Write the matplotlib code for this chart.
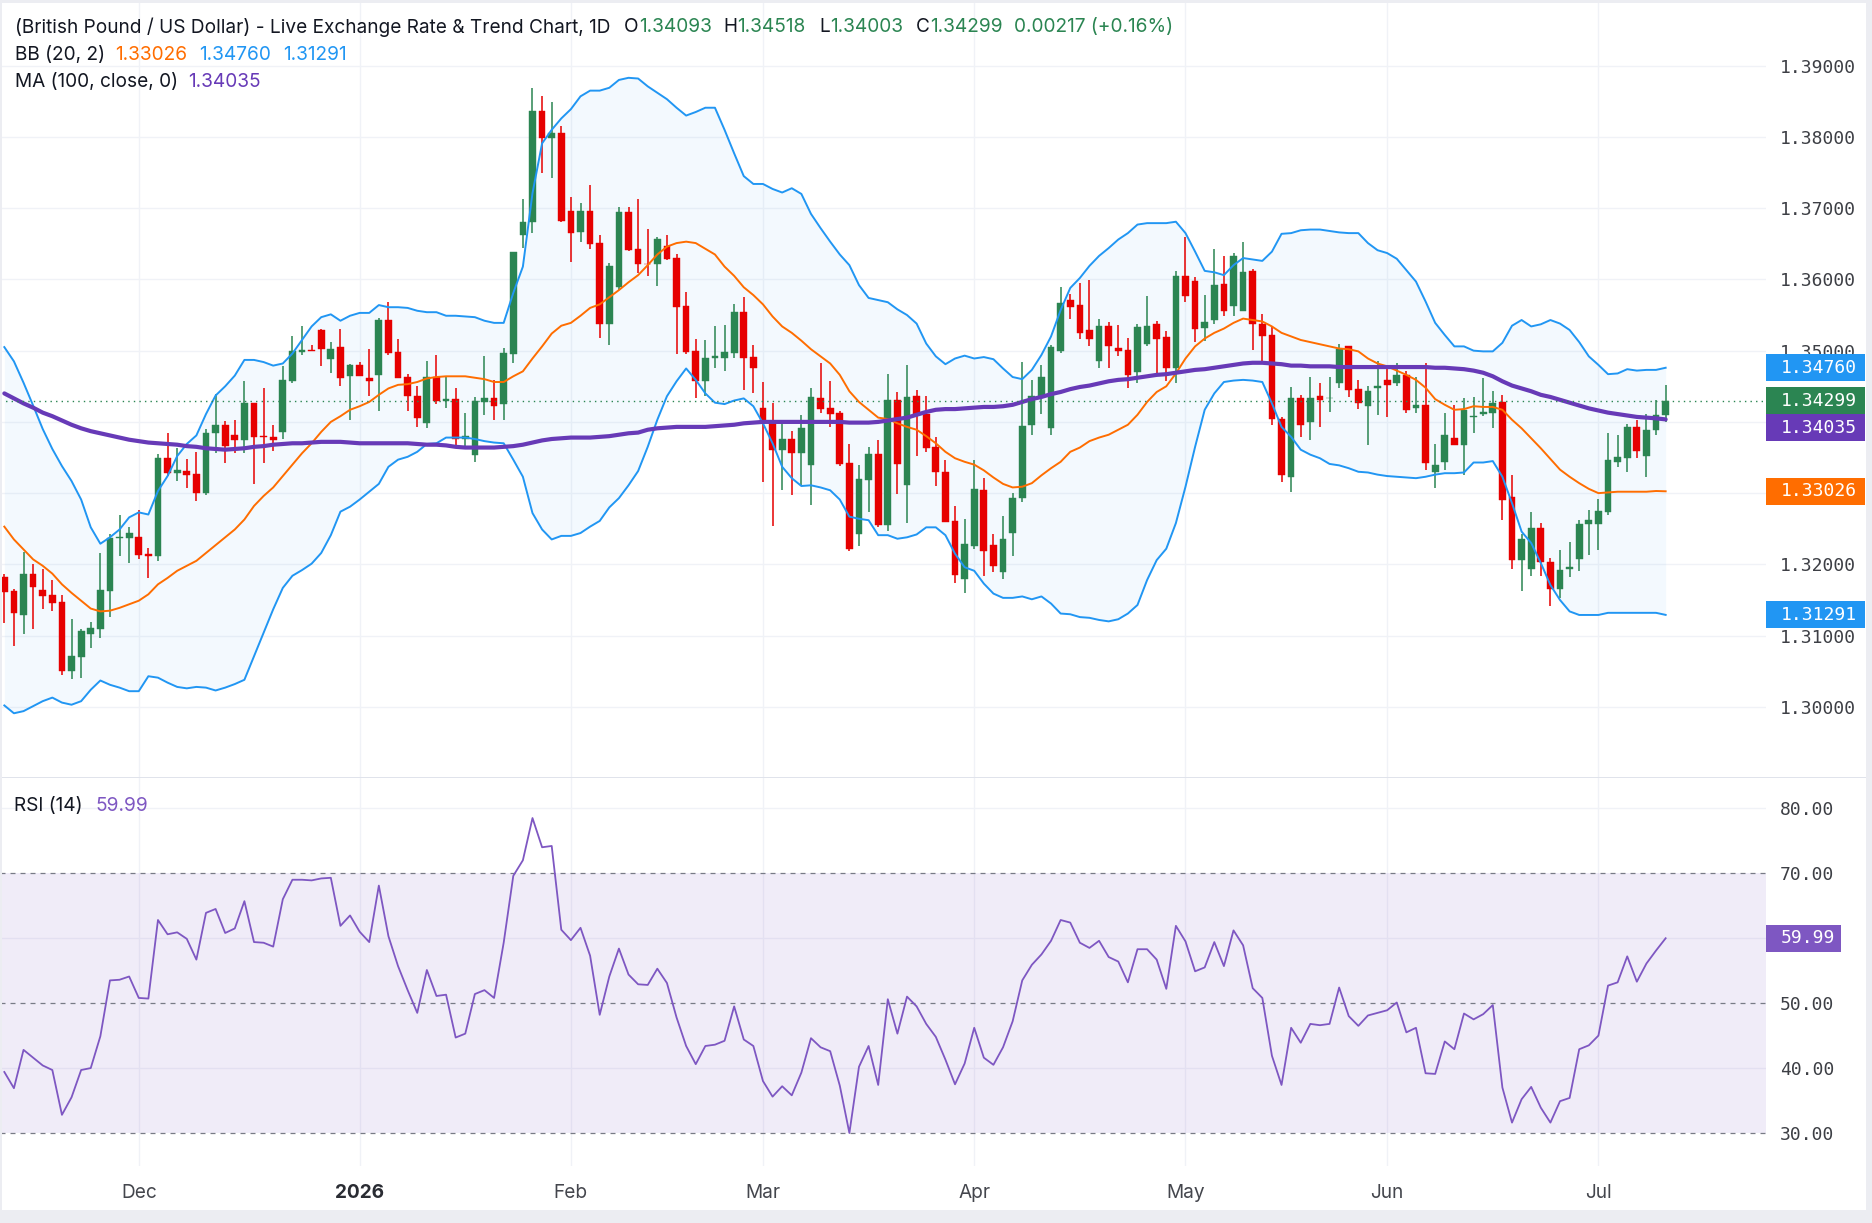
import matplotlib
matplotlib.use('Agg')
import matplotlib.pyplot as plt
from matplotlib.patches import Rectangle
import numpy as np

W, H = 1872, 1223
FAM = ['Inter', 'DejaVu Sans']
MONO = ['DejaVu Sans Mono']
plt.rcParams['font.family'] = FAM

# ---------------- data ----------------
month_labels = ['Dec', '2026', 'Feb', 'Mar', 'Apr', 'May', 'Jun', 'Jul']
month_start_idx = [14, 37, 59, 79, 101, 123, 144, 166]
price_ticks = [1.30, 1.31, 1.32, 1.33, 1.34, 1.35, 1.36, 1.37, 1.38, 1.39]
rsi_ticks = [30, 40, 50, 60, 70, 80]

opens = [
    1.3182, 1.3162, 1.3129, 1.3186, 1.3164, 1.3157, 1.3147, 1.3050, 1.3070, 1.3102,
    1.3109, 1.3163, 1.3237, 1.3237, 1.3239, 1.3214, 1.3212, 1.3349, 1.3328, 1.3331,
    1.3327, 1.3300, 1.3385, 1.3396, 1.3381, 1.3375, 1.3426, 1.3380, 1.3379, 1.3386,
    1.3457, 1.3498, 1.3501, 1.3529, 1.3488, 1.3505, 1.3464, 1.3480, 1.3461, 1.3466,
    1.3543, 1.3498, 1.3463, 1.3437, 1.3398, 1.3463, 1.3430, 1.3432, 1.3376, 1.3353,
    1.3428, 1.3434, 1.3425, 1.3496, 1.3662, 1.3680, 1.3837, 1.3798, 1.3806, 1.3696,
    1.3666, 1.3696, 1.3651, 1.3538, 1.3589, 1.3695, 1.3643, 1.3622, 1.3621, 1.3647,
    1.3630, 1.3562, 1.3500, 1.3458, 1.3489, 1.3490, 1.3497, 1.3554, 1.3491, 1.3420,
    1.3401, 1.3361, 1.3376, 1.3356, 1.3339, 1.3434, 1.3419, 1.3412, 1.3342, 1.3242,
    1.3319, 1.3355, 1.3255, 1.3431, 1.3312, 1.3436, 1.3411, 1.3365, 1.3330, 1.3261,
    1.3180, 1.3226, 1.3304, 1.3227, 1.3190, 1.3244, 1.3293, 1.3396, 1.3435, 1.3391,
    1.3500, 1.3571, 1.3564, 1.3529, 1.3485, 1.3535, 1.3504, 1.3501, 1.3470, 1.3509,
    1.3538, 1.3519, 1.3475, 1.3605, 1.3598, 1.3532, 1.3543, 1.3594, 1.3562, 1.3555,
    1.3612, 1.3538, 1.3522, 1.3404, 1.3323, 1.3433, 1.3400, 1.3437, 1.3433, 1.3454,
    1.3506, 1.3446, 1.3423, 1.3447, 1.3459, 1.3454, 1.3466, 1.3419, 1.3424, 1.3329,
    1.3344, 1.3378, 1.3368, 1.3407, 1.3411, 1.3412, 1.3428, 1.3295, 1.3206, 1.3193,
    1.3251, 1.3204, 1.3166, 1.3193, 1.3207, 1.3257, 1.3256, 1.3274, 1.3344, 1.3349,
    1.3393, 1.3352, 1.3388, 1.34093]

highs = [
    1.3186, 1.3166, 1.3217, 1.3201, 1.3194, 1.3178, 1.3157, 1.3124, 1.3109, 1.3119,
    1.3216, 1.3242, 1.3270, 1.3253, 1.3276, 1.3223, 1.3355, 1.3385, 1.3363, 1.3348,
    1.3358, 1.3390, 1.3439, 1.3401, 1.3403, 1.3457, 1.3427, 1.3448, 1.3396, 1.3478,
    1.3520, 1.3535, 1.3508, 1.3531, 1.3512, 1.3531, 1.3481, 1.3484, 1.3502, 1.3546,
    1.3568, 1.3516, 1.3467, 1.3451, 1.3486, 1.3494, 1.3465, 1.3447, 1.3413, 1.3435,
    1.3492, 1.3459, 1.3504, 1.3639, 1.3713, 1.3869, 1.3857, 1.3849, 1.3815, 1.3716,
    1.3707, 1.3732, 1.3663, 1.3623, 1.3701, 1.3701, 1.3713, 1.3671, 1.3660, 1.3663,
    1.3635, 1.3583, 1.3517, 1.3515, 1.3535, 1.3536, 1.3566, 1.3576, 1.3508, 1.3456,
    1.3426, 1.3403, 1.3387, 1.3410, 1.3448, 1.3483, 1.3458, 1.3415, 1.3369, 1.3340,
    1.3365, 1.3375, 1.3467, 1.3442, 1.3480, 1.3445, 1.3436, 1.3379, 1.3347, 1.3282,
    1.3264, 1.3347, 1.3321, 1.3243, 1.3268, 1.3300, 1.3484, 1.3459, 1.3480, 1.3508,
    1.3590, 1.3580, 1.3595, 1.3599, 1.3544, 1.3540, 1.3536, 1.3518, 1.3538, 1.3577,
    1.3542, 1.3528, 1.3612, 1.3659, 1.3603, 1.3578, 1.3643, 1.3633, 1.3637, 1.3653,
    1.3615, 1.3552, 1.3534, 1.3407, 1.3449, 1.3438, 1.3463, 1.3455, 1.3463, 1.3509,
    1.3507, 1.3459, 1.3450, 1.3486, 1.3477, 1.3482, 1.3472, 1.3463, 1.3483, 1.3369,
    1.3412, 1.3424, 1.3434, 1.3435, 1.3461, 1.3444, 1.3438, 1.3326, 1.3242, 1.3274,
    1.3258, 1.3209, 1.3220, 1.3232, 1.3263, 1.3277, 1.3292, 1.3384, 1.3382, 1.3397,
    1.3402, 1.3411, 1.3431, 1.34518]

lows = [
    1.3118, 1.3085, 1.3102, 1.3109, 1.3137, 1.3135, 1.3045, 1.3039, 1.3041, 1.3082,
    1.3097, 1.3126, 1.3212, 1.3202, 1.3207, 1.3181, 1.3205, 1.3324, 1.3317, 1.3307,
    1.3289, 1.3297, 1.3357, 1.3343, 1.3357, 1.3357, 1.3313, 1.3343, 1.3359, 1.3376,
    1.3455, 1.3494, 1.3500, 1.3478, 1.3469, 1.3450, 1.3402, 1.3465, 1.3436, 1.3415,
    1.3494, 1.3462, 1.3416, 1.3393, 1.3392, 1.3425, 1.3420, 1.3364, 1.3366, 1.3344,
    1.3410, 1.3402, 1.3402, 1.3483, 1.3644, 1.3665, 1.3750, 1.3743, 1.3681, 1.3624,
    1.3652, 1.3643, 1.3518, 1.3508, 1.3585, 1.3640, 1.3609, 1.3605, 1.3591, 1.3627,
    1.3495, 1.3495, 1.3434, 1.3436, 1.3476, 1.3471, 1.3489, 1.3445, 1.3440, 1.3315,
    1.3254, 1.3304, 1.3298, 1.3310, 1.3284, 1.3413, 1.3393, 1.3338, 1.3219, 1.3226,
    1.3274, 1.3253, 1.3247, 1.3299, 1.3258, 1.3352, 1.3358, 1.3310, 1.3260, 1.3174,
    1.3160, 1.3221, 1.3183, 1.3190, 1.3179, 1.3212, 1.3288, 1.3382, 1.3411, 1.3382,
    1.3497, 1.3544, 1.3517, 1.3506, 1.3476, 1.3475, 1.3493, 1.3448, 1.3454, 1.3507,
    1.3464, 1.3458, 1.3455, 1.3569, 1.3512, 1.3514, 1.3538, 1.3549, 1.3548, 1.3555,
    1.3501, 1.3483, 1.3396, 1.3316, 1.3302, 1.3379, 1.3375, 1.3393, 1.3414, 1.3448,
    1.3435, 1.3418, 1.3368, 1.3409, 1.3407, 1.3451, 1.3413, 1.3412, 1.3332, 1.3307,
    1.3332, 1.3367, 1.3325, 1.3384, 1.3408, 1.3391, 1.3263, 1.3194, 1.3163, 1.3184,
    1.3183, 1.3141, 1.3153, 1.3182, 1.3191, 1.3213, 1.3220, 1.3269, 1.3336, 1.3329,
    1.3350, 1.3323, 1.3381, 1.34003]

closes = [
    1.3161, 1.3132, 1.3186, 1.3168, 1.3156, 1.3146, 1.3050, 1.3071, 1.3106, 1.3110,
    1.3164, 1.3237, 1.3238, 1.3244, 1.3213, 1.3212, 1.3349, 1.3328, 1.3333, 1.3326,
    1.3300, 1.3385, 1.3396, 1.3366, 1.3375, 1.3426, 1.3379, 1.3379, 1.3375, 1.3459,
    1.3500, 1.3501, 1.3500, 1.3503, 1.3503, 1.3462, 1.3480, 1.3465, 1.3457, 1.3543,
    1.3497, 1.3462, 1.3436, 1.3406, 1.3463, 1.3430, 1.3432, 1.3376, 1.3380, 1.3429,
    1.3434, 1.3423, 1.3497, 1.3638, 1.3681, 1.3837, 1.3798, 1.3806, 1.3682, 1.3665,
    1.3696, 1.3650, 1.3538, 1.3619, 1.3695, 1.3641, 1.3621, 1.3621, 1.3657, 1.3629,
    1.3561, 1.3498, 1.3458, 1.3490, 1.3493, 1.3498, 1.3554, 1.3490, 1.3476, 1.3400,
    1.3361, 1.3376, 1.3356, 1.3392, 1.3435, 1.3418, 1.3411, 1.3341, 1.3221, 1.3320,
    1.3355, 1.3255, 1.3431, 1.3341, 1.3435, 1.3410, 1.3364, 1.3329, 1.3260, 1.3185,
    1.3229, 1.3306, 1.3219, 1.3198, 1.3236, 1.3293, 1.3394, 1.3436, 1.3463, 1.3505,
    1.3567, 1.3561, 1.3525, 1.3516, 1.3535, 1.3507, 1.3500, 1.3466, 1.3533, 1.3535,
    1.3516, 1.3475, 1.3605, 1.3577, 1.3531, 1.3540, 1.3592, 1.3555, 1.3633, 1.3611,
    1.3538, 1.3521, 1.3404, 1.3325, 1.3433, 1.3395, 1.3433, 1.3431, 1.3434, 1.3502,
    1.3445, 1.3426, 1.3444, 1.3450, 1.3452, 1.3466, 1.3417, 1.3424, 1.3342, 1.3340,
    1.3382, 1.3367, 1.3417, 1.3408, 1.3414, 1.3427, 1.3291, 1.3206, 1.3236, 1.3251,
    1.3203, 1.3166, 1.3192, 1.3197, 1.3257, 1.3263, 1.3275, 1.3347, 1.3351, 1.3393,
    1.3359, 1.3389, 1.3409, 1.34299]

bb_upper = [
    1.3505, 1.3485, 1.3455, 1.3423, 1.3390, 1.3362, 1.3338, 1.3317, 1.3291, 1.3252,
    1.3229, 1.3238, 1.3249, 1.3266, 1.3273, 1.3270, 1.3303, 1.3324, 1.3352, 1.3369,
    1.3381, 1.3411, 1.3437, 1.3450, 1.3465, 1.3487, 1.3487, 1.3484, 1.3479, 1.3482,
    1.3496, 1.3515, 1.3534, 1.3547, 1.3551, 1.3542, 1.3549, 1.3553, 1.3553, 1.3564,
    1.3561, 1.3561, 1.3560, 1.3556, 1.3554, 1.3554, 1.3549, 1.3549, 1.3548, 1.3547,
    1.3542, 1.3539, 1.3539, 1.3581, 1.3618, 1.3721, 1.3791, 1.3810, 1.3826, 1.3839,
    1.3857, 1.3865, 1.3865, 1.3869, 1.3880, 1.3883, 1.3882, 1.3871, 1.3862, 1.3853,
    1.3841, 1.3830, 1.3835, 1.3841, 1.3841, 1.3810, 1.3777, 1.3745, 1.3734, 1.3734,
    1.3727, 1.3722, 1.3728, 1.3720, 1.3692, 1.3672, 1.3653, 1.3635, 1.3620, 1.3592,
    1.3574, 1.3571, 1.3568, 1.3558, 1.3550, 1.3538, 1.3510, 1.3492, 1.3481, 1.3489,
    1.3493, 1.3489, 1.3491, 1.3488, 1.3475, 1.3463, 1.3460, 1.3473, 1.3494, 1.3520,
    1.3557, 1.3588, 1.3602, 1.3619, 1.3633, 1.3644, 1.3656, 1.3665, 1.3677, 1.3679,
    1.3679, 1.3679, 1.3681, 1.3665, 1.3639, 1.3612, 1.3610, 1.3606, 1.3620, 1.3630,
    1.3628, 1.3626, 1.3639, 1.3664, 1.3665, 1.3669, 1.3670, 1.3670, 1.3668, 1.3666,
    1.3665, 1.3665, 1.3651, 1.3641, 1.3637, 1.3629, 1.3613, 1.3597, 1.3569, 1.3539,
    1.3522, 1.3506, 1.3506, 1.3500, 1.3499, 1.3499, 1.3511, 1.3535, 1.3543, 1.3534,
    1.3537, 1.3543, 1.3538, 1.3529, 1.3512, 1.3492, 1.3480, 1.3467, 1.3468, 1.3474,
    1.3472, 1.3473, 1.3473, 1.34760]

bb_mid = [
    1.3253, 1.3235, 1.3221, 1.3207, 1.3198, 1.3187, 1.3172, 1.3160, 1.3149, 1.3138,
    1.3134, 1.3135, 1.3139, 1.3144, 1.3149, 1.3158, 1.3172, 1.3181, 1.3191, 1.3198,
    1.3205, 1.3216, 1.3227, 1.3238, 1.3249, 1.3263, 1.3282, 1.3296, 1.3308, 1.3324,
    1.3340, 1.3356, 1.3370, 1.3386, 1.3400, 1.3408, 1.3417, 1.3422, 1.3428, 1.3438,
    1.3447, 1.3452, 1.3453, 1.3456, 1.3461, 1.3463, 1.3464, 1.3464, 1.3464, 1.3462,
    1.3460, 1.3456, 1.3456, 1.3464, 1.3471, 1.3489, 1.3506, 1.3524, 1.3535, 1.3539,
    1.3549, 1.3560, 1.3565, 1.3575, 1.3585, 1.3596, 1.3606, 1.3620, 1.3635, 1.3646,
    1.3651, 1.3653, 1.3651, 1.3643, 1.3635, 1.3618, 1.3605, 1.3589, 1.3578, 1.3565,
    1.3548, 1.3534, 1.3525, 1.3514, 1.3502, 1.3492, 1.3482, 1.3466, 1.3443, 1.3428,
    1.3417, 1.3406, 1.3404, 1.3398, 1.3393, 1.3389, 1.3380, 1.3370, 1.3358, 1.3349,
    1.3344, 1.3340, 1.3332, 1.3322, 1.3313, 1.3308, 1.3309, 1.3314, 1.3325, 1.3335,
    1.3344, 1.3358, 1.3364, 1.3373, 1.3378, 1.3382, 1.3389, 1.3396, 1.3410, 1.3428,
    1.3442, 1.3450, 1.3468, 1.3489, 1.3506, 1.3517, 1.3525, 1.3531, 1.3539, 1.3545,
    1.3543, 1.3541, 1.3534, 1.3525, 1.3520, 1.3515, 1.3512, 1.3509, 1.3506, 1.3503,
    1.3502, 1.3499, 1.3489, 1.3482, 1.3478, 1.3472, 1.3466, 1.3459, 1.3448, 1.3432,
    1.3424, 1.3417, 1.3418, 1.3422, 1.3421, 1.3421, 1.3417, 1.3403, 1.3391, 1.3377,
    1.3363, 1.3348, 1.3333, 1.3323, 1.3314, 1.3306, 1.3300, 1.3301, 1.3302, 1.3302,
    1.3302, 1.3302, 1.3303, 1.33026]

bb_lower = [
    1.3002, 1.2991, 1.2994, 1.3001, 1.3008, 1.3013, 1.3006, 1.3003, 1.3008, 1.3024,
    1.3037, 1.3031, 1.3027, 1.3022, 1.3022, 1.3043, 1.3041, 1.3034, 1.3028, 1.3026,
    1.3028, 1.3027, 1.3023, 1.3027, 1.3032, 1.3038, 1.3071, 1.3104, 1.3137, 1.3167,
    1.3184, 1.3192, 1.3201, 1.3216, 1.3241, 1.3274, 1.3281, 1.3291, 1.3302, 1.3313,
    1.3337, 1.3347, 1.3351, 1.3358, 1.3369, 1.3370, 1.3378, 1.3378, 1.3378, 1.3376,
    1.3373, 1.3371, 1.3370, 1.3347, 1.3323, 1.3272, 1.3249, 1.3235, 1.3240, 1.3240,
    1.3244, 1.3253, 1.3261, 1.3280, 1.3293, 1.3311, 1.3331, 1.3365, 1.3403, 1.3436,
    1.3457, 1.3475, 1.3459, 1.3440, 1.3427, 1.3425, 1.3430, 1.3433, 1.3422, 1.3398,
    1.3370, 1.3337, 1.3321, 1.3310, 1.3311, 1.3308, 1.3304, 1.3291, 1.3267, 1.3264,
    1.3262, 1.3241, 1.3241, 1.3236, 1.3238, 1.3242, 1.3252, 1.3252, 1.3241, 1.3215,
    1.3196, 1.3191, 1.3173, 1.3159, 1.3153, 1.3153, 1.3155, 1.3151, 1.3155, 1.3145,
    1.3131, 1.3130, 1.3126, 1.3125, 1.3122, 1.3120, 1.3123, 1.3131, 1.3143, 1.3178,
    1.3206, 1.3222, 1.3258, 1.3309, 1.3365, 1.3417, 1.3440, 1.3456, 1.3458, 1.3459,
    1.3458, 1.3456, 1.3426, 1.3393, 1.3379, 1.3361, 1.3354, 1.3349, 1.3341, 1.3339,
    1.3335, 1.3330, 1.3329, 1.3326, 1.3324, 1.3323, 1.3322, 1.3321, 1.3323, 1.3326,
    1.3328, 1.3328, 1.3329, 1.3343, 1.3343, 1.3345, 1.3323, 1.3286, 1.3246, 1.3230,
    1.3202, 1.3171, 1.3150, 1.3134, 1.3129, 1.3129, 1.3129, 1.3132, 1.3132, 1.3132,
    1.3132, 1.3132, 1.3132, 1.31291]

ma100 = [
    1.3440, 1.3433, 1.3426, 1.3420, 1.3413, 1.3408, 1.3402, 1.3396, 1.3391, 1.3387,
    1.3384, 1.3381, 1.3378, 1.3375, 1.3373, 1.3371, 1.3370, 1.3369, 1.3368, 1.3366,
    1.3365, 1.3363, 1.3362, 1.3361, 1.3362, 1.3363, 1.3365, 1.3366, 1.3368, 1.3369,
    1.3370, 1.3370, 1.3371, 1.3372, 1.3372, 1.3372, 1.3371, 1.3370, 1.3370, 1.3370,
    1.3370, 1.3370, 1.3370, 1.3369, 1.3368, 1.3368, 1.3367, 1.3365, 1.3364, 1.3364,
    1.3364, 1.3364, 1.3365, 1.3366, 1.3368, 1.3371, 1.3374, 1.3376, 1.3377, 1.3378,
    1.3378, 1.3378, 1.3379, 1.3380, 1.3382, 1.3384, 1.3385, 1.3389, 1.3391, 1.3392,
    1.3393, 1.3393, 1.3393, 1.3393, 1.3394, 1.3395, 1.3396, 1.3398, 1.3399, 1.3400,
    1.3400, 1.3400, 1.3400, 1.3400, 1.3400, 1.3400, 1.3400, 1.3400, 1.3399, 1.3399,
    1.3399, 1.3400, 1.3402, 1.3404, 1.3406, 1.3410, 1.3414, 1.3417, 1.3418, 1.3418,
    1.3419, 1.3420, 1.3421, 1.3421, 1.3422, 1.3424, 1.3428, 1.3432, 1.3435, 1.3439,
    1.3442, 1.3446, 1.3449, 1.3451, 1.3454, 1.3457, 1.3459, 1.3460, 1.3462, 1.3464,
    1.3466, 1.3467, 1.3469, 1.3471, 1.3473, 1.3474, 1.3476, 1.3478, 1.3480, 1.3482,
    1.3483, 1.3483, 1.3482, 1.3481, 1.3479, 1.3479, 1.3478, 1.3478, 1.3478, 1.3477,
    1.3477, 1.3477, 1.3477, 1.3477, 1.3477, 1.3477, 1.3477, 1.3477, 1.3477, 1.3476,
    1.3476, 1.3475, 1.3474, 1.3472, 1.3469, 1.3464, 1.3457, 1.3451, 1.3447, 1.3443,
    1.3438, 1.3435, 1.3431, 1.3427, 1.3423, 1.3419, 1.3416, 1.3413, 1.3411, 1.3409,
    1.3407, 1.3406, 1.3405, 1.34035]

rsi = [
    39.4, 36.9, 42.8, 41.6, 40.4, 39.7, 32.8, 35.5, 39.7, 40.0,
    44.9, 53.5, 53.6, 54.1, 50.8, 50.7, 62.8, 60.6, 60.9, 59.9,
    56.7, 63.9, 64.5, 60.8, 61.5, 65.7, 59.4, 59.3, 58.7, 66.0,
    69.0, 69.0, 68.9, 69.2, 69.3, 61.9, 63.5, 61.0, 59.4, 68.1,
    60.3, 55.7, 52.0, 48.5, 55.1, 51.1, 51.3, 44.7, 45.3, 51.4,
    52.0, 50.8, 59.3, 69.6, 72.0, 78.5, 74.0, 74.2, 61.3, 59.7,
    61.6, 57.3, 48.2, 54.1, 58.4, 54.4, 52.9, 52.8, 55.3, 53.1,
    47.8, 43.4, 40.6, 43.4, 43.6, 44.2, 49.5, 44.4, 43.4, 38.0,
    35.6, 37.2, 35.8, 39.3, 44.6, 43.2, 42.6, 37.3, 30.0, 40.2,
    43.4, 37.4, 50.6, 45.3, 51.0, 49.5, 46.8, 44.8, 41.3, 37.5,
    40.7, 46.2, 41.6, 40.5, 43.2, 47.2, 53.5, 55.9, 57.5, 59.6,
    62.8, 62.4, 59.3, 58.5, 59.6, 57.1, 56.4, 53.2, 58.3, 58.3,
    56.7, 52.2, 61.9, 59.5, 54.9, 55.5, 59.4, 55.7, 61.2, 58.9,
    52.3, 50.8, 41.9, 37.4, 46.2, 43.9, 46.8, 46.6, 46.8, 52.4,
    48.0, 46.5, 48.1, 48.5, 48.9, 50.1, 45.5, 46.2, 39.2, 39.1,
    44.1, 42.9, 48.4, 47.5, 48.3, 49.7, 37.0, 31.6, 35.2, 37.1,
    33.9, 31.6, 34.9, 35.4, 42.9, 43.5, 45.0, 52.7, 53.2, 57.2,
    53.3, 56.1, 58.1, 59.99]

# ---------------- styles ----------------
GREEN = '#2B8552'
RED = '#E60000'
BLUE = '#2196F3'
ORANGE = '#FF6D00'
PURPLE = '#673AB7'
RSI_COL = '#7E57C2'
GRID = '#F0F2F7'
TXT = '#131722'
AXTXT = '#3D3F45'

fig = plt.figure(figsize=(W / 100, H / 100), dpi=100, facecolor='white')

PLOT_R = 1766
MAIN_B = 777
RSI_B = 1166
ax = fig.add_axes([0, 1 - MAIN_B / H, PLOT_R / W, MAIN_B / H])
ax_r = fig.add_axes([0, 1 - RSI_B / H, PLOT_R / W, (RSI_B - MAIN_B) / H])
ov = fig.add_axes([0, 0, 1, 1], zorder=10)
ov.set_xlim(0, 1)
ov.set_ylim(0, 1)
ov.axis('off')
ov.patch.set_alpha(0)

n = len(closes)
x = np.arange(n)
o = np.array(opens); hi = np.array(highs); lo = np.array(lows); c = np.array(closes)
up = c >= o
cols = np.where(up, GREEN, RED)

for a in (ax, ax_r):
    a.set_xlim(-0.45, 183.45)
    for s in a.spines.values():
        s.set_visible(False)
    a.set_facecolor('white')
ax.set_ylim(1.290155, 1.399222)
ax_r.set_ylim(24.92, 84.82)

# grids
for p in price_ticks:
    ax.axhline(p, color=GRID, lw=1.0, zorder=0)
for m in month_start_idx:
    ax.axvline(m, color=GRID, lw=1.0, zorder=0)
    ax_r.axvline(m, color=GRID, lw=1.0, zorder=0)
for r in (40, 60, 80):
    ax_r.axhline(r, color=GRID, lw=1.0, zorder=0)

# Bollinger fill and lines
ax.fill_between(x, bb_lower, bb_upper, color=BLUE, alpha=0.05, lw=0, zorder=1)
ax.plot(x, bb_upper, color=BLUE, lw=1.4, zorder=4)
ax.plot(x, bb_lower, color=BLUE, lw=1.4, zorder=4)
ax.plot(x, bb_mid, color=ORANGE, lw=1.4, zorder=4)

# candles
ax.vlines(x, lo, hi, colors=cols, lw=1.1, zorder=2)
body_bot = np.minimum(o, c)
body_h = np.maximum(np.abs(c - o), 0.00008)
ax.bar(x, body_h, bottom=body_bot, width=0.7, color=cols, edgecolor=cols,
       linewidth=0.3, zorder=3)

# MA
ax.plot(x, ma100, color=PURPLE, lw=3.0, zorder=5, solid_capstyle='round')

# last price dotted line
ax.axhline(closes[-1], color=GREEN, lw=1.0, ls=(0, (1, 3)), zorder=6)

# RSI
ax_r.axhspan(30, 70, color=RSI_COL, alpha=0.11, lw=0, zorder=1)
for r in (30, 50, 70):
    ax_r.axhline(r, color='#787B86', lw=0.9, ls=(0, (4, 4)), zorder=2)
ax_r.plot(x, rsi, color=RSI_COL, lw=1.3, zorder=3)

renderer = fig.canvas.get_renderer()


def fit_size(text, target, family):
    t = ov.text(0, 0, text, fontsize=10, family=family)
    w = t.get_window_extent(renderer).width
    t.remove()
    return 10 * target / w


HDR = fit_size('(British Pound / US Dollar) - Live Exchange Rate & Trend Chart, 1D', 597, FAM)
AXS = fit_size('1.39000', 76, MONO)

# value boxes (price scale) -- positions first, so hidden tick labels can be dropped
BH = 27
boxes = [(bb_upper[-1], BLUE), (closes[-1], GREEN), (ma100[-1], PURPLE),
         (bb_mid[-1], ORANGE), (bb_lower[-1], BLUE)]
placed = []
for val, col in boxes:
    yc = H - ax.transData.transform((0, val))[1]
    placed.append([yc, col, '{:.5f}'.format(val)])
placed.sort(key=lambda b: b[0])
for k in range(1, len(placed)):
    if placed[k][0] - placed[k - 1][0] < BH:
        placed[k][0] = placed[k - 1][0] + BH
rsi_yc = H - ax_r.transData.transform((0, rsi[-1]))[1]


def covered(a, val, centers):
    yt = H - a.transData.transform((0, val))[1]
    return any(abs(yt - yc) < BH / 2 for yc in centers)


main_centers = [b[0] for b in placed]
for a, ticks, fmt, centers in ((ax, price_ticks, '{:.5f}', main_centers),
                               (ax_r, rsi_ticks, '{:.2f}', [rsi_yc])):
    a.yaxis.tick_right()
    a.set_yticks(ticks)
    labs = ['' if covered(a, t, centers) else fmt.format(t) for t in ticks]
    a.set_yticklabels(labs, family=MONO, fontsize=AXS, color=AXTXT)
    a.tick_params(axis='y', length=0, pad=10)
    a.set_xticks([])

for yc, col, lab in placed:
    ov.add_patch(Rectangle((PLOT_R / W, 1 - (yc + BH / 2) / H), 99 / W, BH / H,
                           facecolor=col, edgecolor='none', zorder=5))
    ov.text(1781 / W, 1 - yc / H, lab, color='white', family=MONO, fontsize=AXS,
            ha='left', va='center', zorder=6)

ov.add_patch(Rectangle((PLOT_R / W, 1 - (rsi_yc + BH / 2) / H), 75 / W, BH / H,
                       facecolor=RSI_COL, edgecolor='none', zorder=5))
ov.text(1781 / W, 1 - rsi_yc / H, '{:.2f}'.format(rsi[-1]), color='white', family=MONO,
        fontsize=AXS, ha='left', va='center', zorder=6)

# x labels
for m, lab in zip(month_start_idx, month_labels):
    xf = ax_r.transData.transform((m, 0))[0] / W
    bold = lab == '2026'
    ov.text(xf, 1 - 1193 / H, lab, ha='center', va='center', fontsize=HDR,
            color='#2A2C33' if bold else '#44464D', fontweight='bold' if bold else 'normal')


# header text chains
def chain(x_px, y_px, pieces):
    first = pieces[0]
    prev = ov.text(x_px / W, 1 - y_px / H, first[0], color=first[1], fontsize=HDR,
                   ha='left', va='center')
    for txt, col, gap in pieces[1:]:
        prev = ov.annotate(txt, xy=(1, 0.5), xycoords=prev, xytext=(gap, 0),
                           textcoords='offset points', color=col, fontsize=HDR,
                           ha='left', va='center')
    return prev


HY = [27, 55, 82]
chain(15, HY[0], [('(British Pound / US Dollar) - Live Exchange Rate & Trend Chart, 1D', TXT)])
chain(624, HY[0], [('O', TXT), ('1.34093', GREEN, 0)])
chain(723, HY[0], [('H', TXT), ('1.34518', GREEN, 0)])
chain(819, HY[0], [('L', TXT), ('1.34003', GREEN, 0)])
chain(916, HY[0], [('C', TXT), ('1.34299', GREEN, 0)])
chain(1014, HY[0], [('0.00217 (+0.16%)', GREEN)])
chain(15, HY[1], [('BB (20, 2)', TXT)])
chain(115, HY[1], [('1.33026', ORANGE)])
chain(199, HY[1], [('1.34760', BLUE)])
chain(283, HY[1], [('1.31291', BLUE)])
chain(15, HY[2], [('MA (100, close, 0)', TXT)])
chain(188, HY[2], [('1.34035', PURPLE)])
chain(14, 806, [('RSI (14)', TXT)])
chain(95, 806, [('59.99', RSI_COL)])

# pane separator and frame
BORDER = '#ECEDF2'
ov.add_patch(Rectangle((0, 1 - (MAIN_B + 1) / H), 1866 / W, 1.5 / H,
                       facecolor='#E0E3EB', edgecolor='none', zorder=4))
ov.add_patch(Rectangle((0, 1 - 3 / H), 1, 3 / H, facecolor=BORDER, edgecolor='none', zorder=7))
ov.add_patch(Rectangle((0, 0), 2 / W, 1, facecolor=BORDER, edgecolor='none', zorder=7))
ov.add_patch(Rectangle((1866 / W, 0), 6 / W, 1, facecolor=BORDER, edgecolor='none', zorder=7))
ov.add_patch(Rectangle((0, 0), 1, 13 / H, facecolor=BORDER, edgecolor='none', zorder=7))

fig.savefig('out.png', dpi=100, facecolor='white')
